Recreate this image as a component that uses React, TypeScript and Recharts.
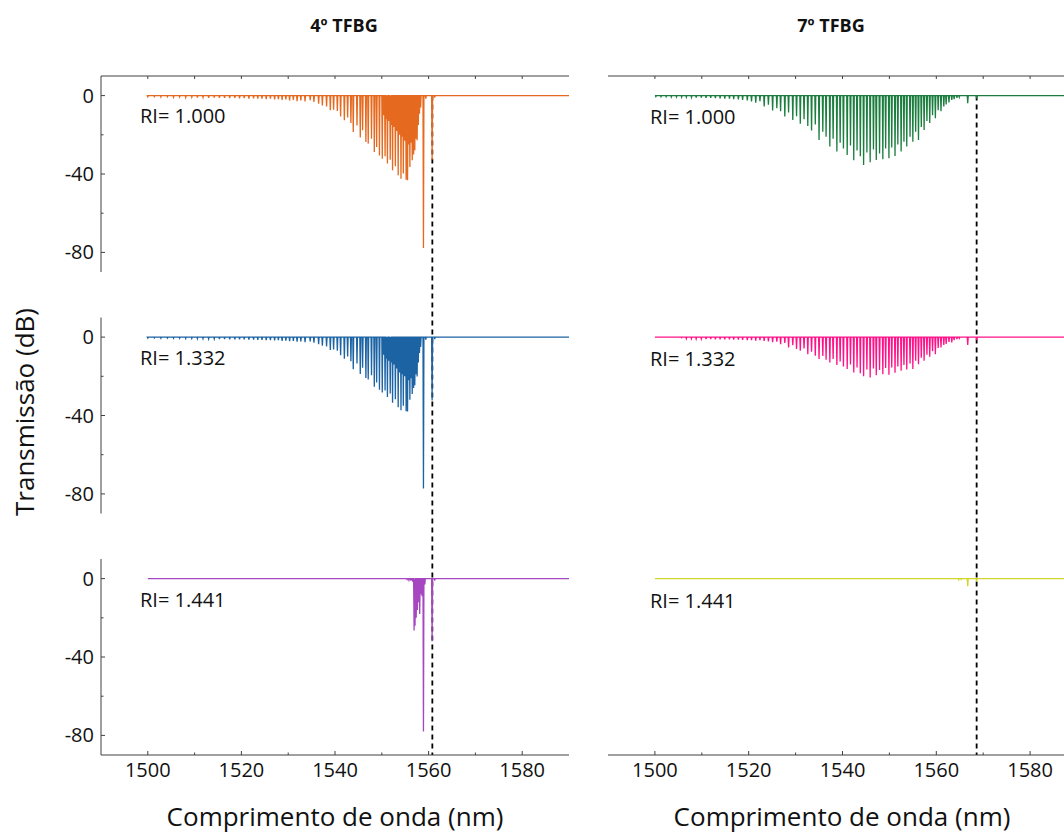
import React from 'react';
import { LineChart, Line, XAxis, YAxis, ReferenceLine } from 'recharts';

// wavelength range of the scans (nm)
const scanStart = 1500;
const scanEnd = 1590;
const xTicks = [1500, 1510, 1520, 1530, 1540, 1550, 1560, 1570, 1580];
const yTicks = [-80, -60, -40, -20, 0];

// 4º TFBG: cladding-mode resonances (nm) and dip depth (dB) for each RI
const modes4 = [
  1500.0, 1501.4, 1502.8, 1504.2, 1505.5, 1506.8, 1508.1, 1509.4, 1510.6, 1511.8,
  1513.0, 1514.2, 1515.3, 1516.4, 1517.5, 1518.6, 1519.6, 1520.6, 1521.6, 1522.6,
  1523.5, 1524.4, 1525.3, 1526.2, 1527.1, 1527.9, 1528.7, 1529.5, 1530.3, 1531.1,
  1531.9, 1532.7, 1533.6, 1534.7, 1535.5, 1536.5, 1537.3, 1538.2, 1539.0, 1539.7,
  1540.5, 1541.2, 1542.0, 1542.7, 1543.4, 1543.9, 1544.7, 1545.4, 1545.9, 1546.6,
  1547.1, 1547.8, 1548.4, 1548.9, 1549.5, 1550.1, 1550.4, 1550.7, 1551.0, 1551.2,
  1551.5, 1551.8, 1552.0, 1552.3, 1552.6, 1552.9, 1553.2, 1553.5, 1553.8, 1554.1,
  1554.35, 1554.6, 1554.9, 1555.2, 1555.5, 1555.75, 1556.0, 1556.25, 1556.5, 1556.8,
  1557.05, 1557.3, 1557.55, 1557.8, 1558.05, 1558.3, 1558.9, 1559.4, 1560.75, 1561.3,
];
const depth4Ri1000 = [
  0.6, 0.5, 0.7, 0.6, 0.8, 0.7, 0.9, 0.8, 1.0, 0.9,
  1.1, 1.0, 1.2, 1.1, 1.3, 1.2, 1.4, 1.3, 1.5, 1.4,
  1.6, 1.5, 1.8, 1.6, 2.0, 1.8, 2.2, 2.0, 2.5, 2.2,
  2.8, 2.5, 3.0, 2.4, 3.2, 4.1, 5.0, 5.5, 7.5, 7.2,
  7.8, 10.6, 12.6, 11.2, 14.0, 18.6, 15.2, 21.4, 17.7, 23.7,
  24.5, 22.0, 28.8, 26.2, 30.5, 32.2, 10, 31.0, 12, 34.7,
  13, 32.7, 15, 38.1, 16, 36.0, 18, 40.7, 20, 42.4,
  21, 39.8, 23, 42.9, 43.2, 25, 36.4, 24, 33.0, 30,
  27.9, 22, 22.8, 15, 9.2, 6, 77.8, 1.5, 32.7, 1.0,
];
const depth4Ri1332 = [
  0.5, 0.4, 0.6, 0.5, 0.6, 0.6, 0.7, 0.7, 0.8, 0.8,
  0.9, 0.9, 1.0, 1.0, 1.1, 1.1, 1.2, 1.2, 1.3, 1.3,
  1.4, 1.4, 1.5, 1.5, 1.7, 1.6, 1.9, 1.8, 2.1, 2.0,
  2.4, 2.2, 2.6, 2.2, 2.8, 3.6, 4.4, 4.8, 6.6, 6.3,
  6.9, 9.3, 11.1, 9.9, 12.3, 16.4, 13.4, 18.8, 15.6, 20.9,
  21.6, 19.4, 25.3, 23.1, 26.8, 28.3, 9, 27.3, 11, 30.5,
  12, 28.8, 13, 33.5, 14, 31.7, 16, 35.8, 18, 37.3,
  19, 35.0, 20, 37.8, 38.0, 22, 32.0, 21, 29.0, 26,
  24.6, 19, 20.1, 13, 8.1, 5, 77.3, 1.3, 32.3, 1.0,
];
const modes4Ri1441 = [1555.4, 1555.8, 1556.2, 1556.6, 1556.9, 1557.1, 1557.35, 1557.6, 1557.85, 1558.1, 1558.35, 1558.6, 1558.9, 1559.2, 1560.75, 1561.3];
const depth4Ri1441 = [0.5, 0.8, 1.0, 1.5, 26.5, 24.0, 20.0, 16.0, 12.0, 18.0, 8.0, 9.0, 78.0, 3.0, 32.0, 1.0];

// 7º TFBG
const modes7 = [
  1500.2, 1501.3, 1502.4, 1503.5, 1504.6, 1505.7, 1506.7, 1507.8, 1508.8, 1509.9,
  1510.9, 1511.9, 1512.9, 1513.9, 1514.9, 1515.9, 1516.8, 1517.8, 1518.7, 1519.7,
  1520.6, 1521.5, 1522.4, 1523.3, 1524.2, 1525.1, 1526.0, 1526.8, 1527.7, 1528.5,
  1529.4, 1530.2, 1531.0, 1531.8, 1532.6, 1533.4, 1534.2, 1535.0, 1535.8, 1536.5,
  1537.3, 1538.0, 1538.8, 1539.5, 1540.2, 1541.0, 1541.7, 1542.4, 1543.1, 1543.8,
  1544.5, 1545.2, 1545.9, 1546.6, 1547.2, 1547.9, 1548.6, 1549.2, 1549.9, 1550.5,
  1551.2, 1551.8, 1552.5, 1553.1, 1553.7, 1554.4, 1555.0, 1555.6, 1556.2, 1556.8,
  1557.4, 1558.0, 1558.6, 1559.2, 1559.8, 1560.4, 1561.0, 1561.6, 1562.1, 1562.7,
  1563.3, 1563.8, 1564.4, 1564.9, 1566.7, 1568.6,
];
const depth7Ri1000 = [
  0.5, 0.6, 0.6, 0.7, 0.7, 0.8, 0.8, 0.9, 1.0, 1.0,
  1.1, 1.2, 1.3, 1.4, 1.5, 1.6, 1.8, 2.0, 2.2, 2.5,
  3.0, 3.6, 2.8, 5.6, 4.6, 7.6, 6.4, 8.0, 10.7, 8.6,
  12.4, 10.5, 14.4, 12.0, 15.5, 17.8, 14.8, 22.6, 18.5, 21.0,
  26.0, 22.0, 28.5, 24.0, 27.0, 30.3, 25.5, 33.0, 28.0, 31.0,
  35.4, 29.0, 34.0, 27.5, 32.8, 29.5, 32.5, 27.0, 32.0, 26.5,
  30.8, 25.0, 28.5, 23.5, 26.0, 21.0, 23.5, 18.5, 22.6, 16.0,
  17.5, 13.0, 14.0, 10.0, 11.5, 7.5, 8.0, 5.6, 4.5, 3.5,
  2.2, 1.8, 1.2, 0.8, 3.9, 1.5,
];
const depth7Ri1332 = [
  0, 0, 0, 0, 0, 0.3, 0.8, 0.8, 0.9, 0.9,
  1.0, 1.0, 1.1, 1.1, 1.2, 1.2, 1.3, 1.3, 1.4, 1.5,
  1.6, 1.8, 1.5, 2.0, 2.2, 2.6, 2.3, 3.6, 3.0, 5.3,
  4.2, 6.0, 7.0, 5.8, 8.7, 7.4, 9.5, 11.2, 9.6, 11.5,
  13.0, 11.2, 14.2, 12.5, 15.0, 16.3, 14.0, 18.0, 15.5, 18.5,
  20.0, 16.5, 20.6, 16.0, 19.5, 16.8, 19.0, 15.8, 19.2, 15.5,
  18.2, 15.0, 17.2, 14.2, 16.5, 13.5, 16.3, 12.0, 13.8, 10.5,
  12.0, 9.0, 10.0, 7.2, 8.7, 5.6, 5.3, 4.0, 3.5, 2.5,
  2.7, 1.6, 1.0, 0.6, 4.0, 1.5,
];
const modes7Ri1441 = [1564.8, 1565.3, 1566.7, 1568.6];
const depth7Ri1441 = [0.6, 0.4, 3.9, 1.5];

// resonance wavelengths marked with dashed lines
const marker4 = 1560.8;
const marker7 = 1568.6;

const dipHalfWidth = 0.1;

type Pt = { w: number; v: number };
const buildSpectrum = (wl: number[], depth: number[]): Pt[] => {
  const pts: Pt[] = [{ w: scanStart, v: 0 }];
  wl.forEach((w, i) => {
    if (depth[i] > 0) {
      pts.push({ w: w - dipHalfWidth, v: 0 }, { w, v: -depth[i] }, { w: w + dipHalfWidth, v: 0 });
    }
  });
  pts.push({ w: scanEnd, v: 0 });
  return pts;
};

// each panel spans -90..10 dB; three panels stacked in one plot
const panelPx = 196;
const gapPx = 45.5;
const plotPx = 3 * panelPx + 2 * gapPx;
const dbPerPx = 100 / panelPx;
const axisIds = ['a', 'b', 'c'];
const domainFor = (i: number): [number, number] => {
  const top = 10 + i * (panelPx + gapPx) * dbPerPx;
  return [top - plotPx * dbPerPx, top];
};

const FONT = '"Open Sans", sans-serif';
const AXIS = '#404040';
const Y_AXIS_W = 60; // mirrored y axes still stack side by side

const YTick = (props: any) => {
  const { y, payload, shift } = props;
  const x = props.x - shift;
  const major = payload.value % 40 === 0;
  return (
    <g>
      <line x1={x} x2={x + (major ? 4 : 2.5)} y1={y} y2={y} stroke={AXIS} />
      {major && (
        <text x={x - 7} y={y} dy={7} textAnchor="end" fontSize={20} fontFamily={FONT} fill="#111">
          {payload.value}
        </text>
      )}
    </g>
  );
};

const XTick = (props: any) => {
  const { x, y, payload } = props;
  const major = payload.value % 20 === 0;
  return (
    <g>
      <line x1={x} x2={x} y1={y} y2={y - (major ? 4 : 2.5)} stroke={AXIS} />
      {major && (
        <text x={x} y={y + 22} textAnchor="middle" fontSize={20} fontFamily={FONT} fill="#111">
          {payload.value}
        </text>
      )}
    </g>
  );
};

const TopTick = (props: any) => {
  const { x, y } = props;
  return <line x1={x} x2={x} y1={y} y2={y + 3} stroke={AXIS} />;
};

interface ColumnProps {
  spectra: { data: Pt[]; color: string }[];
  marker: number;
  showYAxis: boolean;
  width: number;
  margin: { top: number; right: number; bottom: number; left: number };
}

const Column: React.FC<ColumnProps> = ({ spectra, marker, showYAxis, width, margin }) => {
  const topDomain = domainFor(0);
  return (
    <LineChart width={width} height={834} margin={margin}>
      <XAxis
        dataKey="w"
        type="number"
        domain={[1490, 1590]}
        allowDataOverflow
        ticks={xTicks}
        interval={0}
        height={40}
        tickSize={0}
        tickMargin={0}
        tickLine={false}
        tick={<XTick />}
        axisLine={{ stroke: AXIS }}
      />
      <XAxis
        xAxisId="top"
        orientation="top"
        mirror
        dataKey="w"
        type="number"
        domain={[1490, 1590]}
        allowDataOverflow
        ticks={xTicks}
        interval={0}
        height={20}
        tickSize={0}
        tickMargin={0}
        tickLine={false}
        tick={<TopTick />}
        axisLine={{ stroke: AXIS }}
      />
      {axisIds.map((id, i) => (
        <YAxis
          key={id}
          yAxisId={id}
          type="number"
          mirror
          domain={domainFor(i)}
          allowDataOverflow
          ticks={yTicks}
          interval={0}
          width={Y_AXIS_W}
          tickSize={0}
          tickMargin={0}
          tickLine={false}
          axisLine={false}
          hide={!showYAxis}
          tick={<YTick shift={i * Y_AXIS_W} />}
        />
      ))}
      {showYAxis &&
        axisIds.map((id) => (
          <ReferenceLine
            key={'ax' + id}
            yAxisId={id}
            segment={[
              { x: 1490, y: -90 },
              { x: 1490, y: 10 },
            ]}
            stroke={AXIS}
          />
        ))}
      <ReferenceLine
        yAxisId="a"
        segment={[
          { x: marker, y: 0 },
          { x: marker, y: topDomain[0] },
        ]}
        stroke="#000"
        strokeWidth={1.8}
        strokeDasharray="5 4"
      />
      {spectra.map((s, i) => (
        <Line
          key={i}
          yAxisId={axisIds[i]}
          data={s.data}
          dataKey="v"
          type="linear"
          stroke={s.color}
          strokeWidth={1.3}
          dot={false}
          activeDot={false}
          isAnimationActive={false}
        />
      ))}
    </LineChart>
  );
};

const left = [
  { data: buildSpectrum(modes4, depth4Ri1000), color: '#E5691E' },
  { data: buildSpectrum(modes4, depth4Ri1332), color: '#1C63A4' },
  { data: buildSpectrum(modes4Ri1441, depth4Ri1441), color: '#A646C0' },
];
const right = [
  { data: buildSpectrum(modes7, depth7Ri1000), color: '#1B7E3E' },
  { data: buildSpectrum(modes7, depth7Ri1332), color: '#FF1289' },
  { data: buildSpectrum(modes7Ri1441, depth7Ri1441), color: '#D2D62A' },
];

const riLabels = ['RI= 1.000', 'RI= 1.332', 'RI= 1.441'];

const App: React.FC = () => {
  const txt = { fontFamily: FONT, fill: '#111' };
  return (
    <div
      style={{
        position: 'absolute',
        left: 0,
        top: 0,
        width: 1064,
        height: 834,
        overflow: 'hidden',
        background: '#fff',
      }}
    >
      <div style={{ position: 'absolute', left: 0, top: 0 }}>
        <Column spectra={left} marker={marker4} showYAxis width={590} margin={{ top: 76, right: 21, bottom: 39, left: 101 }} />
      </div>
      <div style={{ position: 'absolute', left: 590, top: 0 }}>
        <Column spectra={right} marker={marker7} showYAxis={false} width={500} margin={{ top: 76, right: 13, bottom: 39, left: 18 }} />
      </div>
      <svg width={1064} height={834} style={{ position: 'absolute', left: 0, top: 0, pointerEvents: 'none' }}>
        <text x={344} y={32} textAnchor="middle" fontWeight="bold" fontSize={18} {...txt}>4º TFBG</text>
        <text x={831} y={32} textAnchor="middle" fontWeight="bold" fontSize={18} {...txt}>7º TFBG</text>
        <text transform="translate(34,412) rotate(-90)" textAnchor="middle" fontSize={26} {...txt}>Transmissão (dB)</text>
        <text x={335} y={826} textAnchor="middle" fontSize={26} {...txt}>Comprimento de onda (nm)</text>
        <text x={842} y={826} textAnchor="middle" fontSize={26} {...txt}>Comprimento de onda (nm)</text>
        {riLabels.map((t, i) => (
          <text key={'l' + t} x={140} y={123 + i * 242} fontSize={20} {...txt}>{t}</text>
        ))}
        {riLabels.map((t, i) => (
          <text key={'r' + t} x={650} y={124 + i * 242} fontSize={20} {...txt}>{t}</text>
        ))}
      </svg>
    </div>
  );
};

export default App;
